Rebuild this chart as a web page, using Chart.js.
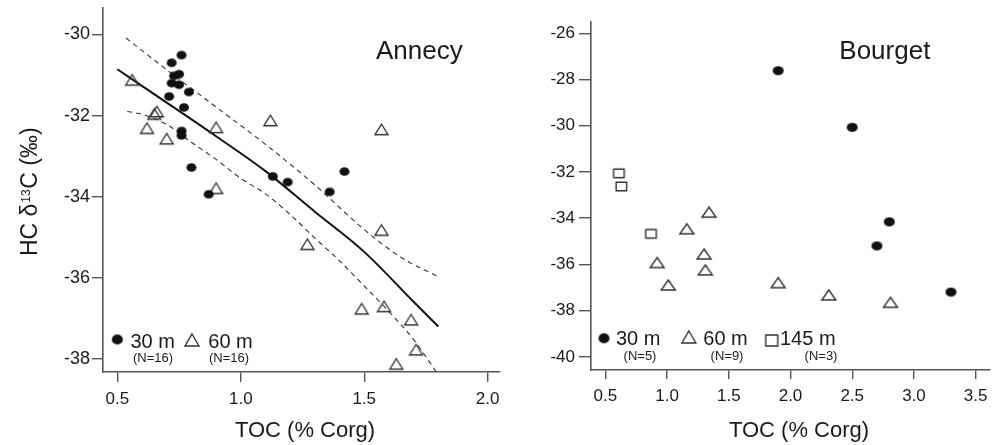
<!DOCTYPE html>
<html>
<head>
<meta charset="utf-8">
<script src="https://cdn.jsdelivr.net/npm/chart.js@4"></script>
<style>
  html, body { margin: 0; padding: 0; background: #fff; }
  #wrap { position: relative; width: 998px; height: 445px; overflow: hidden; }
  canvas { position: absolute; top: 0; }
</style>
</head>
<body>
<div id="wrap">
  <canvas id="annecy" width="520" height="445" style="left:0"></canvas>
  <canvas id="bourget" width="498" height="445" style="left:500px"></canvas>
</div>
<script>
// ---- Annecy (left panel) ----
const annecyXTicks = [0.5, 1.0, 1.5, 2.0];
const annecyYTicks = [-38, -36, -34, -32, -30];

const annecy30TOC  = [0.76, 0.72, 0.75, 0.73, 0.72, 0.75, 0.79, 0.71, 0.77, 0.76, 0.76, 0.80, 0.87, 1.13, 1.19, 1.36, 1.42];
const annecy30D13C = [-30.51, -30.70, -30.98, -31.02, -31.20, -31.24, -31.42, -31.53, -31.80, -32.38, -32.49, -33.28, -33.94, -33.50, -33.64, -33.88, -33.38];

const annecy60TOC  = [0.56, 0.66, 0.65, 0.62, 0.70, 0.90, 0.90, 1.12, 1.57, 1.57, 1.27, 1.49, 1.58, 1.69, 1.71, 1.63];
const annecy60D13C = [-31.12, -31.90, -31.96, -32.31, -32.57, -32.29, -33.79, -32.12, -32.34, -34.82, -35.17, -36.76, -36.70, -37.03, -37.77, -38.12];

// regression curve and its band
const annecyFitTOC    = [0.5, 0.7, 0.9, 1.1, 1.3, 1.5, 1.7, 1.8];
const annecyFitD13C   = [-30.86, -31.68, -32.51, -33.37, -34.37, -35.36, -36.59, -37.20];
const annecyUpperTOC  = [0.535, 0.7, 0.9, 1.1, 1.3, 1.5, 1.65, 1.8];
const annecyUpperD13C = [-30.09, -30.87, -31.79, -32.71, -33.71, -34.81, -35.50, -35.97];
const annecyLowerTOC  = [0.54, 0.6, 0.7, 0.8, 0.9, 1.0, 1.1, 1.2, 1.3, 1.4, 1.5, 1.6, 1.7, 1.79];
const annecyLowerD13C = [-31.90, -31.97, -32.22, -32.66, -33.08, -33.55, -33.93, -34.44, -35.02, -35.58, -36.20, -36.83, -37.52, -38.30];

// ---- Bourget (right panel) ----
const bourgetXTicks = [0.5, 1.0, 1.5, 2.0, 2.5, 3.0, 3.5];
const bourgetYTicks = [-40, -38, -36, -34, -32, -30, -28, -26];

const bourget30TOC   = [1.9, 2.5, 2.8, 2.7, 3.3];
const bourget30D13C  = [-27.62, -30.07, -34.16, -35.20, -37.20];
const bourget60TOC   = [0.92, 1.01, 1.16, 1.30, 1.31, 1.34, 1.9, 2.31, 2.81];
const bourget60D13C  = [-35.92, -36.89, -34.46, -35.55, -36.24, -33.74, -36.79, -37.32, -37.64];
const bourget145TOC  = [0.61, 0.63, 0.87];
const bourget145D13C = [-32.06, -32.63, -34.68];

const FAM = '"Liberation Sans", Arial, Helvetica, sans-serif';
const AXIS = '#555';
const INK = '#1a1a1a';

function pts(xs, ys) { return xs.map((x, i) => ({ x: x, y: ys[i] })); }

// small canvases used as point styles (markers in the figure are slightly wide)
function marker(kind, w, h) {
  const m = 2;
  const cv = document.createElement('canvas');
  cv.width = Math.ceil(w + 2 * m);
  cv.height = Math.ceil(h + 2 * m);
  const c = cv.getContext('2d');
  const cx = cv.width / 2, cy = cv.height / 2;
  c.lineWidth = 1.4;
  c.strokeStyle = '#333';
  c.fillStyle = '#111';
  c.beginPath();
  if (kind === 'dot') {
    c.ellipse(cx, cy, w / 2, h / 2, 0, 0, 2 * Math.PI);
    c.fill();
  } else if (kind === 'tri') {
    c.moveTo(cx, cy - h / 2);
    c.lineTo(cx + w / 2, cy + h / 2);
    c.lineTo(cx - w / 2, cy + h / 2);
    c.closePath();
    c.stroke();
  } else {
    c.rect(cx - w / 2, cy - h / 2, w, h);
    c.stroke();
  }
  return cv;
}

const dotL = marker('dot', 10, 8.5);
const triL = marker('tri', 13, 10.5);
const dotR = marker('dot', 11, 9);
const triR = marker('tri', 14, 10);
const sqR = marker('sq', 10.5, 8.5);
const dotLeg = marker('dot', 11, 10);
const triLeg = marker('tri', 14, 12);
const sqLeg = marker('sq', 12, 11);

function noPad(s) { s.paddingLeft = 0; s.paddingRight = 0; s.paddingTop = 0; s.paddingBottom = 0; }

function scaleX(min, max, vals, height, tickLen) {
  return {
    type: 'linear', position: 'bottom', min: min, max: max,
    afterBuildTicks: s => { s.ticks = vals.map(v => ({ value: v })); },
    afterFit: s => { s.height = height; noPad(s); },
    grid: { drawOnChartArea: false, drawTicks: true, tickLength: tickLen, color: AXIS, lineWidth: 1.4 },
    border: { display: true, color: AXIS, width: 1.6 },
    ticks: { color: INK, font: { family: FAM, size: 17 }, padding: 7, maxRotation: 0, autoSkip: false,
             callback: v => v.toFixed(1) }
  };
}

function scaleY(min, max, vals, width, tickLen, pad, size) {
  return {
    type: 'linear', position: 'left', min: min, max: max,
    afterBuildTicks: s => { s.ticks = vals.map(v => ({ value: v })); },
    afterFit: s => { s.width = width; noPad(s); },
    grid: { drawOnChartArea: false, drawTicks: true, tickLength: tickLen, color: AXIS, lineWidth: 1.4 },
    border: { display: true, color: AXIS, width: 1.6 },
    ticks: { color: INK, font: { family: FAM, size: size }, padding: pad, autoSkip: false,
             callback: v => String(v) }
  };
}

function centerImg(c, img, x, y) { c.drawImage(img, x - img.width / 2, y - img.height / 2); }

const annecyText = {
  id: 'annecyText',
  afterDraw(chart) {
    const c = chart.ctx;
    c.save();
    c.fillStyle = INK;
    c.textAlign = 'left';
    c.textBaseline = 'alphabetic';
    c.font = '26px ' + FAM;
    c.fillText('Annecy', 376, 58.5);

    // legend
    centerImg(c, dotLeg, 117.3, 339.5);
    centerImg(c, triLeg, 192, 340);
    c.font = '20px ' + FAM;
    c.fillText('30 m', 130.5, 347.5);
    c.fillText('60 m', 208.3, 347.5);
    c.font = '13px ' + FAM;
    c.textAlign = 'center';
    c.textBaseline = 'middle';
    c.fillText('(N=16)', 153, 358.7);
    c.fillText('(N=16)', 229, 358.7);

    // x title
    c.textBaseline = 'alphabetic';
    c.font = '22px ' + FAM;
    c.fillText('TOC (% Corg)', 305, 437);

    // y title with superscript
    c.translate(36.5, 191.7);
    c.rotate(-Math.PI / 2);
    c.textAlign = 'left';
    const f1 = '23px ' + FAM, f2 = '12px ' + FAM;
    c.font = f1;
    const w1 = c.measureText('HC \u03b4').width;
    const w3 = c.measureText('C (\u2030)').width;
    c.font = f2;
    const w2 = c.measureText('13').width + 1.5;
    let x = -(w1 + w2 + w3) / 2;
    c.font = f1; c.fillText('HC \u03b4', x, 0); x += w1;
    c.font = f2; c.fillText('13', x + 0.8, -7); x += w2;
    c.font = f1; c.fillText('C (\u2030)', x, 0);
    c.restore();
  }
};

const bourgetText = {
  id: 'bourgetText',
  afterDraw(chart) {
    const c = chart.ctx;
    c.save();
    c.fillStyle = INK;
    c.textAlign = 'left';
    c.textBaseline = 'alphabetic';
    c.font = '26px ' + FAM;
    c.fillText('Bourget', 339.3, 59.3);

    // legend
    centerImg(c, dotLeg, 104, 338.3);
    centerImg(c, triLeg, 188.8, 337);
    centerImg(c, sqLeg, 271.7, 340.5);
    c.font = '20px ' + FAM;
    c.fillText('30 m', 116, 345);
    c.fillText('60 m', 203.3, 345);
    c.fillText('145 m', 280, 345);
    c.font = '13px ' + FAM;
    c.textAlign = 'center';
    c.textBaseline = 'middle';
    c.fillText('(N=5)', 140, 356.7);
    c.fillText('(N=9)', 227, 356.7);
    c.fillText('(N=3)', 321, 356.7);

    // x title
    c.textBaseline = 'alphabetic';
    c.font = '22px ' + FAM;
    c.fillText('TOC (% Corg)', 299, 437);
    c.restore();
  }
};

const common = {
  responsive: false,
  animation: false,
  events: [],
  plugins: { legend: { display: false }, tooltip: { enabled: false } }
};

new Chart(document.getElementById('annecy'), {
  type: 'scatter',
  data: {
    datasets: [
      { label: '30 m', data: pts(annecy30TOC, annecy30D13C), pointStyle: dotL, pointRadius: 5 },
      { label: '60 m', data: pts(annecy60TOC, annecy60D13C), pointStyle: triL, pointRadius: 6 },
      { label: 'fit', data: pts(annecyFitTOC, annecyFitD13C), showLine: true, pointRadius: 0,
        borderColor: '#111', borderWidth: 2, cubicInterpolationMode: 'monotone' },
      { label: 'upper', data: pts(annecyUpperTOC, annecyUpperD13C), showLine: true, pointRadius: 0,
        borderColor: '#333', borderWidth: 1.1, borderDash: [5, 4], cubicInterpolationMode: 'monotone' },
      { label: 'lower', data: pts(annecyLowerTOC, annecyLowerD13C), showLine: true, pointRadius: 0,
        borderColor: '#333', borderWidth: 1.1, borderDash: [5, 4], cubicInterpolationMode: 'monotone' }
    ]
  },
  options: Object.assign({}, common, {
    // canvas is 20px wider than the panel so the last x label has room; right panel sits on top
    layout: { padding: { left: 0, right: 20, top: 8, bottom: 0 } },
    scales: {
      x: scaleX(0.442, 2.05, annecyXTicks, 73, 10),
      y: scaleY(-38.32, -29.35, annecyYTicks, 103, 11, 2, 18)
    }
  }),
  plugins: [annecyText]
});

new Chart(document.getElementById('bourget'), {
  type: 'scatter',
  data: {
    datasets: [
      { label: '30 m', data: pts(bourget30TOC, bourget30D13C), pointStyle: dotR, pointRadius: 5 },
      { label: '60 m', data: pts(bourget60TOC, bourget60D13C), pointStyle: triR, pointRadius: 6 },
      { label: '145 m', data: pts(bourget145TOC, bourget145D13C), pointStyle: sqR, pointRadius: 5 }
    ]
  },
  options: Object.assign({}, common, {
    layout: { padding: { left: 0, right: 8, top: 21.7, bottom: 0 } },
    scales: {
      x: scaleX(0.384, 3.616, bourgetXTicks, 75, 9),
      y: scaleY(-40.57, -25.5, bourgetYTicks, 91, 12, 4, 17)
    }
  }),
  plugins: [bourgetText]
});
</script>
</body>
</html>
